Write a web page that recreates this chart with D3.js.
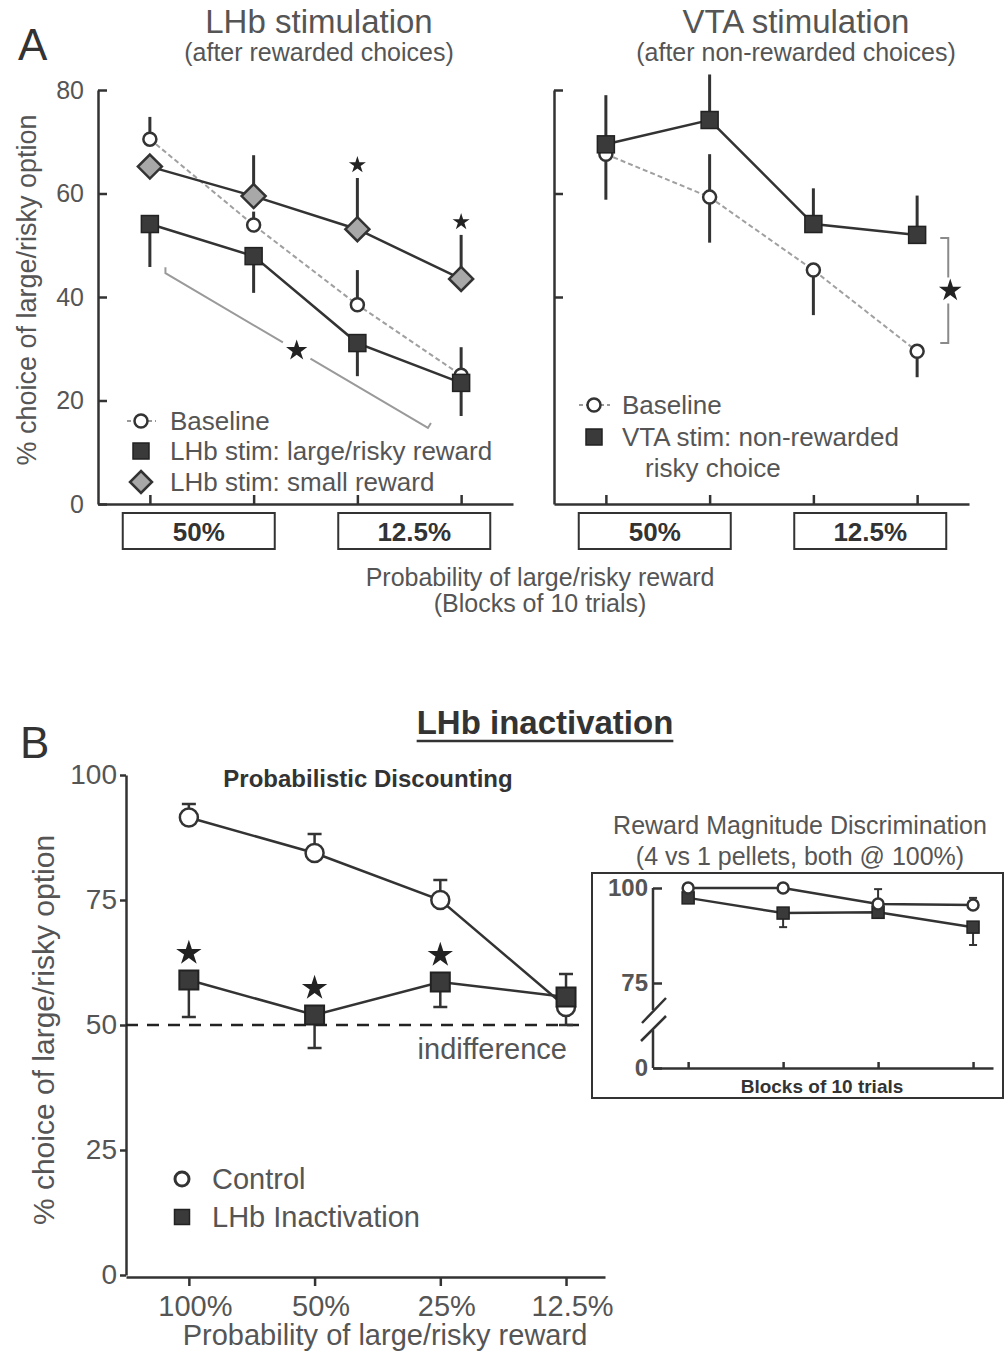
<!DOCTYPE html>
<html lang="en">
<head>
  <meta charset="utf-8">
  <title>LHb / VTA stimulation and LHb inactivation</title>
  <script src="https://d3js.org/d3.v7.min.js"></script>
  <style>
    body {
      margin: 0;
      background: #fff;
    }

    svg {
      display: block;
      font-family: "Liberation Sans", Arial, sans-serif;
    }

    .axis path,
    .axis line {
      stroke: #333;
      stroke-width: 2.5px;
    }

    .axis text {
      fill: #555;
    }
  </style>
</head>

<body>
<div id="chart"></div>

<script>
  // ---- data ----
  var blocks = [1, 2, 3, 4];
  var blockProbs = [{label: "50%", first: 1, last: 2}, {label: "12.5%", first: 3, last: 4}];

  // A left: LHb stimulation after rewarded choices
  var lhbBase = [70.5, 53.9, 38.5, 24.9];
  var lhbBaseUp = [4.3, 2.6, 6.7, 0];
  var lhbLarge = [54.1, 47.9, 31.1, 23.4];
  var lhbLargeUp = [0, 0, 0, 6.9];
  var lhbLargeDown = [8.3, 7.1, 6.4, 6.4];
  var lhbSmall = [65.2, 59.5, 53.1, 43.5];
  var lhbSmallUp = [0, 7.9, 9.9, 8.5];
  var lhbSmallStars = [false, false, true, true];
  var lhbBracket = {x0: 1.15, y0: 44.6, x1: 3.68, y1: 14.7, star: 0.5};

  // A right: VTA stimulation after non-rewarded choices
  var vtaBase = [67.6, 59.3, 45.2, 29.5];
  var vtaBaseUp = [0, 8.3, 0, 0];
  var vtaBaseDown = [8.8, 8.8, 8.7, 5.0];
  var vtaStim = [69.5, 74.2, 54.1, 52.0];
  var vtaStimUp = [9.5, 8.8, 6.9, 7.6];
  var vtaBracket = {x: 4.3, top: 51.4, bottom: 31.1};

  // B: LHb inactivation, probabilistic discounting
  var probLabels = ["100%", "50%", "25%", "12.5%"];
  var control = [91.5, 84.4, 75.0, 53.6];
  var controlUp = [2.7, 3.8, 4.0, 0];
  var controlDown = [0, 0, 0, 3.6];
  var inact = [59.0, 52.0, 58.6, 55.6];
  var inactUp = [0, 0, 0, 4.6];
  var inactDown = [7.4, 6.6, 5.0, 0];
  var inactStars = [true, true, true, false];
  var yTicksB = [0, 25, 50, 75, 100];

  // B inset: reward magnitude discrimination
  var magControl = [100, 100, 95.8, 95.5];
  var magControlUp = [0, 0, 3.9, 1.9];
  var magInact = [97.4, 93.4, 93.6, 89.7];
  var magInactDown = [0, 3.7, 0, 4.7];

  var ink = "#333", txt = "#555";

  var svg = d3.select("#chart")
          .append("svg")
          .attr("width", 1005)
          .attr("height", 1353);

  // ---- helpers ----
  function label(g, x, y, s, size, opt) {
    opt = opt || {};
    return g.append("text")
            .attr("x", x).attr("y", y)
            .attr("font-size", size)
            .attr("font-weight", opt.bold ? "bold" : null)
            .attr("text-anchor", opt.anchor || "start")
            .attr("fill", opt.fill || txt)
            .text(s);
  }

  function drawLine(g, x, y, vals, stroke, width, dash) {
    g.append("path")
            .datum(vals)
            .attr("fill", "none")
            .attr("stroke", stroke)
            .attr("stroke-width", width)
            .attr("stroke-dasharray", dash || null)
            .attr("d", d3.line()
                    .x(function (d, i) { return x(blocks[i]); })
                    .y(function (d) { return y(d); }));
  }

  function drawErrors(g, x, y, vals, up, down, cap, width) {
    vals.forEach(function (v, i) {
      [[up, 1], [down, -1]].forEach(function (p) {
        var e = p[0] ? p[0][i] : 0;
        if (!e) return;
        var xe = x(blocks[i]), ye = y(v + p[1] * e);
        g.append("line")
                .attr("x1", xe).attr("x2", xe)
                .attr("y1", y(v)).attr("y2", ye)
                .attr("stroke", ink).attr("stroke-width", width);
        if (cap) {
          g.append("line")
                  .attr("x1", xe - cap / 2).attr("x2", xe + cap / 2)
                  .attr("y1", ye).attr("y2", ye)
                  .attr("stroke", ink).attr("stroke-width", width);
        }
      });
    });
  }

  function marker(g, cx, cy, type, s, sw) {
    if (type === "circle") {
      g.append("circle").attr("cx", cx).attr("cy", cy).attr("r", s)
              .attr("fill", "#fff").attr("stroke", ink).attr("stroke-width", sw);
    } else if (type === "square") {
      g.append("rect").attr("x", cx - s / 2).attr("y", cy - s / 2)
              .attr("width", s).attr("height", s)
              .attr("fill", "#3a3a3a").attr("stroke", "#222").attr("stroke-width", sw);
    } else {
      g.append("path")
              .attr("d", "M" + cx + "," + (cy - s) + "L" + (cx + s) + "," + cy +
                      "L" + cx + "," + (cy + s) + "L" + (cx - s) + "," + cy + "Z")
              .attr("fill", "#a8a8a8").attr("stroke", ink).attr("stroke-width", sw);
    }
  }

  function drawMarkers(g, x, y, vals, type, s, sw) {
    vals.forEach(function (v, i) { marker(g, x(blocks[i]), y(v), type, s, sw); });
  }

  function star(g, cx, cy, size) {
    g.append("path")
            .attr("transform", "translate(" + cx + "," + cy + ")")
            .attr("d", d3.symbol().type(d3.symbolStar).size(size)())
            .attr("fill", "#222");
  }

  // =========================== Panel A ===========================
  var yA = d3.scaleLinear().domain([0, 80]).range([504, 90]);
  var xL = d3.scaleLinear().domain([0.5, 4.5]).range([98, 513]);
  var xR = d3.scaleLinear().domain([0.5, 4.5]).range([554, 969]);

  label(svg, 18, 60, "A", 44, {fill: "#333"});

  // titles
  label(svg, 319, 33, "LHb stimulation", 33, {anchor: "middle"});
  label(svg, 319, 61, "(after rewarded choices)", 25, {anchor: "middle"});
  label(svg, 796, 33, "VTA stimulation", 33, {anchor: "middle"});
  label(svg, 796, 61, "(after non-rewarded choices)", 25, {anchor: "middle"});

  // y title
  svg.append("text")
          .attr("transform", "translate(36,290) rotate(-90)")
          .attr("text-anchor", "middle")
          .attr("font-size", 27)
          .attr("fill", txt)
          .text("% choice of large/risky option");

  // axes
  svg.append("g").attr("class", "axis")
          .attr("transform", "translate(98,0)")
          .call(d3.axisLeft(yA).tickValues([0, 20, 40, 60, 80]).tickSizeInner(-9).tickSizeOuter(0).tickPadding(14))
          .call(function (g) { g.selectAll("text").attr("font-size", 25).attr("font-family", null); });

  svg.append("g").attr("class", "axis")
          .attr("transform", "translate(554,0)")
          .call(d3.axisLeft(yA).tickValues([40, 60, 80]).tickSizeInner(-9).tickSizeOuter(0).tickFormat(""));

  [xL, xR].forEach(function (x) {
    svg.append("g").attr("class", "axis")
            .attr("transform", "translate(0,504)")
            .call(d3.axisBottom(x).tickValues(blocks).tickSizeInner(-9).tickSizeOuter(0).tickFormat(""));

    // probability boxes under the block axis
    blockProbs.forEach(function (b, k) {
      var mid = (x(b.first) + x(b.last)) / 2 + (k === 0 ? -3 : 5);
      svg.append("rect")
              .attr("x", mid - 76).attr("y", 513)
              .attr("width", 152).attr("height", 36)
              .attr("fill", "#fff").attr("stroke", ink).attr("stroke-width", 2);
      label(svg, mid, 541, b.label, 26, {anchor: "middle", bold: true, fill: "#333"});
    });
  });

  label(svg, 540, 586, "Probability of large/risky reward", 25, {anchor: "middle"});
  label(svg, 540, 612, "(Blocks of 10 trials)", 25, {anchor: "middle"});

  // ---- A left data ----
  var gL = svg.append("g");

  // significance bracket across the large/risky series
  (function () {
    var b = lhbBracket;
    var x0 = xL(b.x0), y0 = yA(b.y0), x1 = xL(b.x1), y1 = yA(b.y1);
    var sx = x0 + (x1 - x0) * b.star, sy = y0 + (y1 - y0) * b.star;
    var gap = 16 / Math.hypot(x1 - x0, y1 - y0);
    var grey = "#9a9a9a";
    gL.append("path")
            .attr("d", "M" + x0 + "," + (y0 - 6) + "L" + x0 + "," + y0 +
                    "L" + (sx - (x1 - x0) * gap) + "," + (sy - (y1 - y0) * gap))
            .attr("fill", "none").attr("stroke", grey).attr("stroke-width", 2);
    gL.append("path")
            .attr("d", "M" + (sx + (x1 - x0) * gap) + "," + (sy + (y1 - y0) * gap) +
                    "L" + x1 + "," + y1 + "L" + (x1 + 3) + "," + (y1 - 5))
            .attr("fill", "none").attr("stroke", grey).attr("stroke-width", 2);
    star(gL, sx, sy, 140);
  })();

  drawErrors(gL, xL, yA, lhbBase, lhbBaseUp, null, 0, 3);
  drawErrors(gL, xL, yA, lhbLarge, lhbLargeUp, lhbLargeDown, 0, 3);
  drawErrors(gL, xL, yA, lhbSmall, lhbSmallUp, null, 0, 3);
  drawLine(gL, xL, yA, lhbBase, "#a0a0a0", 2, "5,3");
  drawLine(gL, xL, yA, lhbLarge, ink, 2.5);
  drawLine(gL, xL, yA, lhbSmall, ink, 2.5);
  drawMarkers(gL, xL, yA, lhbBase, "circle", 6.5, 2.5);
  drawMarkers(gL, xL, yA, lhbLarge, "square", 17, 1.5);
  drawMarkers(gL, xL, yA, lhbSmall, "diamond", 12, 2.5);
  lhbSmall.forEach(function (v, i) {
    if (lhbSmallStars[i]) star(gL, xL(blocks[i]), yA(v + lhbSmallUp[i]) - 13, 90);
  });

  // legend A left
  gL.append("line").attr("x1", 127).attr("x2", 156).attr("y1", 421).attr("y2", 421)
          .attr("stroke", "#999").attr("stroke-width", 2).attr("stroke-dasharray", "4,3");
  marker(gL, 141, 421, "circle", 6.5, 2.5);
  label(gL, 170, 430, "Baseline", 26);
  marker(gL, 141, 451, "square", 16, 1.5);
  label(gL, 170, 460, "LHb stim: large/risky reward", 26);
  marker(gL, 141, 482, "diamond", 11, 2.5);
  label(gL, 170, 491, "LHb stim: small reward", 26);

  // ---- A right data ----
  var gR = svg.append("g");
  drawErrors(gR, xR, yA, vtaBase, vtaBaseUp, vtaBaseDown, 0, 3);
  drawErrors(gR, xR, yA, vtaStim, vtaStimUp, null, 0, 3);
  drawLine(gR, xR, yA, vtaBase, "#a0a0a0", 2, "5,3");
  drawLine(gR, xR, yA, vtaStim, ink, 2.5);
  drawMarkers(gR, xR, yA, vtaBase, "circle", 6.5, 2.5);
  drawMarkers(gR, xR, yA, vtaStim, "square", 17, 1.5);

  (function () {
    var bx = xR(vtaBracket.x), t = yA(vtaBracket.top), b = yA(vtaBracket.bottom);
    var m = (t + b) / 2;
    gR.append("path")
            .attr("d", "M" + (bx - 8) + "," + t + "H" + bx + "V" + (m - 13) +
                    "M" + bx + "," + (m + 13) + "V" + b + "H" + (bx - 8))
            .attr("fill", "none").attr("stroke", "#8a8a8a").attr("stroke-width", 2);
    star(gR, bx + 2, m, 160);
  })();

  // legend A right
  gR.append("line").attr("x1", 579).attr("x2", 610).attr("y1", 405).attr("y2", 405)
          .attr("stroke", "#999").attr("stroke-width", 2).attr("stroke-dasharray", "4,3");
  marker(gR, 594, 405, "circle", 6.5, 2.5);
  label(gR, 622, 414, "Baseline", 26);
  marker(gR, 594, 437, "square", 16, 1.5);
  label(gR, 622, 446, "VTA stim: non-rewarded", 26);
  label(gR, 645, 477, "risky choice", 26);

  // =========================== Panel B ===========================
  var yB = d3.scaleLinear().domain([0, 100]).range([1275, 775]);
  var xB = d3.scaleLinear().domain([0.5, 4.31]).range([126, 605]);

  label(svg, 20, 758, "B", 44, {fill: "#333"});

  var title = label(svg, 545, 734, "LHb inactivation", 33, {anchor: "middle", bold: true, fill: "#333"});
  var tw = title.node().getComputedTextLength();
  svg.append("line")
          .attr("x1", 545 - tw / 2).attr("x2", 545 + tw / 2)
          .attr("y1", 741).attr("y2", 741)
          .attr("stroke", "#333").attr("stroke-width", 2.5);

  label(svg, 368, 787, "Probabilistic Discounting", 24, {anchor: "middle", bold: true, fill: "#333"});

  svg.append("text")
          .attr("transform", "translate(54,1030) rotate(-90)")
          .attr("text-anchor", "middle")
          .attr("font-size", 30)
          .attr("fill", txt)
          .text("% choice of large/risky option");

  svg.append("g").attr("class", "axis")
          .attr("transform", "translate(126,0)")
          .call(d3.axisLeft(yB).tickValues(yTicksB).tickSizeInner(6).tickSizeOuter(0).tickPadding(3))
          .call(function (g) { g.selectAll("text").attr("font-size", 28).attr("font-family", null); });

  svg.append("g").attr("class", "axis")
          .attr("transform", "translate(0,1277)")
          .call(d3.axisBottom(xB).tickValues(blocks).tickSizeInner(9).tickSizeOuter(0).tickPadding(9)
                  .tickFormat(function (d, i) { return probLabels[i]; }))
          .call(function (g) {
            g.selectAll("text").attr("font-size", 29).attr("font-family", null).attr("dx", 6);
          });

  label(svg, 385, 1345, "Probability of large/risky reward", 29, {anchor: "middle"});

  var gB = svg.append("g");

  // indifference line
  gB.append("line")
          .attr("x1", 126).attr("x2", 583)
          .attr("y1", yB(50)).attr("y2", yB(50))
          .attr("stroke", "#222").attr("stroke-width", 2.5).attr("stroke-dasharray", "12,9");
  label(gB, 567, 1059, "indifference", 29, {anchor: "end"});

  drawErrors(gB, xB, yB, control, controlUp, controlDown, 14, 2.5);
  drawErrors(gB, xB, yB, inact, inactUp, inactDown, 14, 2.5);
  drawLine(gB, xB, yB, control, ink, 2.5);
  drawLine(gB, xB, yB, inact, ink, 2.5);
  drawMarkers(gB, xB, yB, control, "circle", 9, 2.5);
  drawMarkers(gB, xB, yB, inact, "square", 19, 2);
  inact.forEach(function (v, i) {
    if (inactStars[i]) star(gB, xB(blocks[i]), yB(v) - 27, 200);
  });

  // legend B
  marker(gB, 182, 1179, "circle", 7, 3);
  label(gB, 212, 1189, "Control", 29);
  marker(gB, 182, 1217, "square", 15, 1.5);
  label(gB, 212, 1227, "LHb Inactivation", 29);

  // ---- inset ----
  var gI = svg.append("g");
  var yI = d3.scaleLinear().domain([0, 75, 100]).range([1068, 983, 888]);
  var xI = d3.scaleLinear().domain([0.63, 4.21]).range([653, 993]);

  label(gI, 800, 834, "Reward Magnitude Discrimination", 25, {anchor: "middle"});
  label(gI, 800, 865, "(4 vs 1 pellets, both @ 100%)", 25, {anchor: "middle"});

  gI.append("rect")
          .attr("x", 592).attr("y", 873).attr("width", 411).attr("height", 225)
          .attr("fill", "#fff").attr("stroke", ink).attr("stroke-width", 2);

  var yAxI = gI.append("g").attr("class", "axis")
          .attr("transform", "translate(653,0)")
          .call(d3.axisLeft(yI).tickValues([0, 75, 100]).tickSizeInner(-9).tickSizeOuter(0).tickPadding(5))
          .call(function (g) {
            g.selectAll("text").attr("font-size", 24).attr("font-weight", "bold")
                    .attr("font-family", null).attr("fill", "#333");
            g.select(".domain").remove();
          });
  // broken y axis
  yAxI.append("path")
          .attr("d", "M0," + yI(100) + "V1010M0,1030V" + yI(0))
          .attr("fill", "none").attr("stroke", ink).attr("stroke-width", 2.5);
  yAxI.append("path")
          .attr("d", "M-11,1023L13,998M-12,1041L13,1016")
          .attr("fill", "none").attr("stroke", ink).attr("stroke-width", 2.5);

  gI.append("g").attr("class", "axis")
          .attr("transform", "translate(0,1068)")
          .call(d3.axisBottom(xI).tickValues(blocks).tickSizeInner(-6).tickSizeOuter(0).tickFormat(""));

  label(gI, 822, 1093, "Blocks of 10 trials", 19, {anchor: "middle", bold: true, fill: "#333"});

  drawErrors(gI, xI, yI, magControl, magControlUp, null, 8, 2);
  drawErrors(gI, xI, yI, magInact, null, magInactDown, 8, 2);
  drawLine(gI, xI, yI, magControl, ink, 2.5);
  drawLine(gI, xI, yI, magInact, ink, 2.5);
  drawMarkers(gI, xI, yI, magInact, "square", 12, 1.5);
  drawMarkers(gI, xI, yI, magControl, "circle", 5.5, 2.5);
</script>

</body>

</html>
